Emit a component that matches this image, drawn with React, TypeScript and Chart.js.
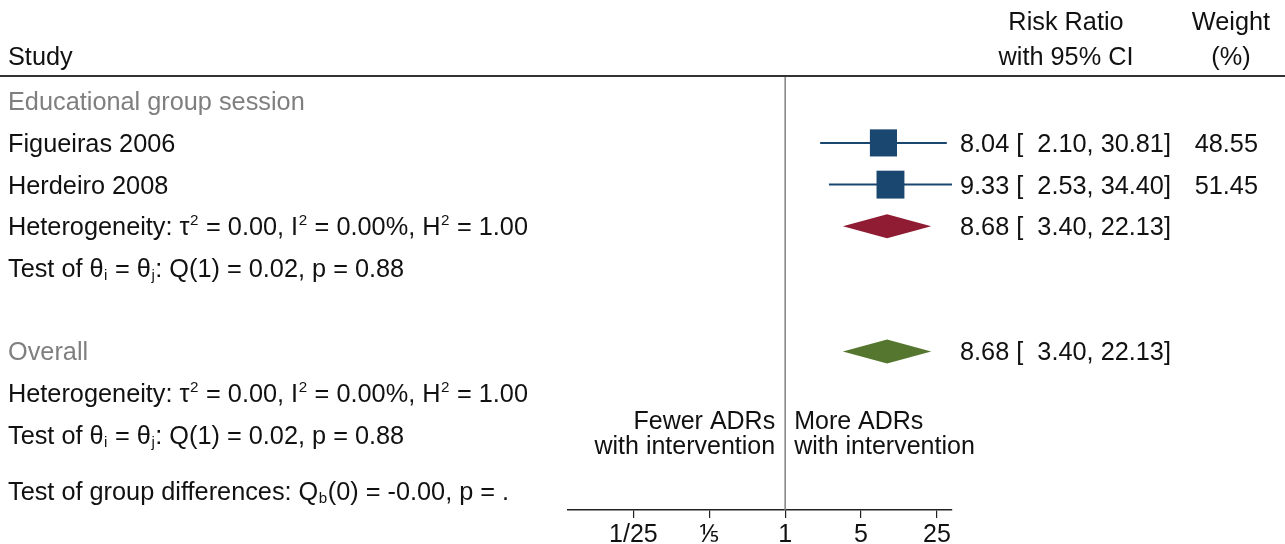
import React, { useEffect, useRef } from "react";
import { Chart, registerables } from "chart.js";

Chart.register(...registerables);

// ---------- data ----------
const groupLabel = "Educational group session";
const studies = ["Figueiras 2006", "Herdeiro 2008"];
const riskRatio = [8.04, 9.33];
const ciLower = [2.1, 2.53];
const ciUpper = [30.81, 34.4];
const weights = [48.55, 51.45];
// pooled estimates: [subgroup, overall]
const pooledRR = [8.68, 8.68];
const pooledLower = [3.4, 3.4];
const pooledUpper = [22.13, 22.13];
const tickValues = [0.04, 0.2, 1, 5, 25];
const tickLabels = ["1/25", "\u2155", "1", "5", "25"];
const axisMin = 0.01;
const axisMax = 34.4;

// ---------- layout ----------
const W = 1285;
const H = 544;
const FONT = '"Liberation Sans", Arial, Helvetica, sans-serif';
const FS = 25.3;
const NAVY = "#1a476f";
const RED = "#901c33";
const GREEN = "#55762f";
const GRAY = "#7f7f7f";
const TEXT = "#111111";

const studyRows = [2, 3];
const pooledRows = [4, 7];
const Y_MIN = 0.42;
const Y_MAX = 10.8;

type Seg = { t: string; sup?: boolean; sub?: boolean };

const hetText: Seg[] = [
  { t: "Heterogeneity: \u03c4" },
  { t: "2", sup: true },
  { t: " = 0.00, I" },
  { t: "2", sup: true },
  { t: " = 0.00%, H" },
  { t: "2", sup: true },
  { t: " = 1.00" },
];
const testText: Seg[] = [
  { t: "Test of \u03b8" },
  { t: "i", sub: true },
  { t: " = \u03b8" },
  { t: "j", sub: true },
  { t: ": Q(1) = 0.02, p = 0.88" },
];
const groupDiffText: Seg[] = [
  { t: "Test of group differences: Q" },
  { t: "b", sub: true },
  { t: "(0) = -0.00, p = ." },
];

function drawRich(
  ctx: CanvasRenderingContext2D,
  segs: Seg[],
  x: number,
  baseline: number,
  size: number,
  color: string
) {
  let cx = x;
  ctx.fillStyle = color;
  ctx.textAlign = "left";
  ctx.textBaseline = "alphabetic";
  for (const s of segs) {
    const small = s.sup || s.sub;
    const fs = small ? size * 0.6 : size;
    ctx.font = `${fs}px ${FONT}`;
    let dy = 0;
    if (s.sup) dy = -size * 0.42;
    if (s.sub) dy = size * 0.12;
    if (small) cx += 0.5;
    ctx.fillText(s.t, cx, baseline + dy);
    cx += ctx.measureText(s.t).width + (small ? 0.5 : 0);
  }
}

const ciString = (e: number, l: number, u: number) =>
  `${e.toFixed(2)} [  ${l.toFixed(2)}, ${u.toFixed(2)}]`;

const forestText = {
  id: "forestText",
  afterDraw(chart: any) {
    const ctx: CanvasRenderingContext2D = chart.ctx;
    const xs = chart.scales.x;
    const ys = chart.scales.y;
    const area = chart.chartArea;
    const rowY = (r: number) => ys.getPixelForValue(r) + 9;
    ctx.save();

    // header rule
    ctx.strokeStyle = "#333333";
    ctx.lineWidth = 2;
    ctx.beginPath();
    ctx.moveTo(0, area.top - 1);
    ctx.lineTo(W, area.top - 1);
    ctx.stroke();

    // pooled diamonds
    const dColors = [RED, GREEN];
    pooledRows.forEach((r, i) => {
      const yc = ys.getPixelForValue(r);
      const xl = xs.getPixelForValue(pooledLower[i]);
      const xe = xs.getPixelForValue(pooledRR[i]);
      const xu = xs.getPixelForValue(pooledUpper[i]);
      ctx.fillStyle = dColors[i];
      ctx.beginPath();
      ctx.moveTo(xl, yc);
      ctx.lineTo(xe, yc - 12);
      ctx.lineTo(xu, yc);
      ctx.lineTo(xe, yc + 12);
      ctx.closePath();
      ctx.fill();
    });

    ctx.font = `${FS}px ${FONT}`;
    ctx.fillStyle = TEXT;
    ctx.textBaseline = "alphabetic";

    // headers
    ctx.textAlign = "left";
    ctx.fillText("Study", 8, 65);
    ctx.textAlign = "center";
    ctx.fillText("Risk Ratio", 1066, 30);
    ctx.fillText("with 95% CI", 1066, 65);
    ctx.fillText("Weight", 1231, 30);
    ctx.fillText("(%)", 1231, 65);

    // group label
    ctx.textAlign = "left";
    ctx.fillStyle = GRAY;
    ctx.fillText(groupLabel, 8, rowY(1));
    ctx.fillText("Overall", 8, rowY(7));

    // studies
    ctx.fillStyle = TEXT;
    studies.forEach((s, i) => {
      ctx.textAlign = "left";
      ctx.fillText(s, 8, rowY(studyRows[i]));
      ctx.fillText(ciString(riskRatio[i], ciLower[i], ciUpper[i]), 960, rowY(studyRows[i]));
      ctx.textAlign = "right";
      ctx.fillText(weights[i].toFixed(2), 1258, rowY(studyRows[i]));
    });
    ctx.textAlign = "left";
    pooledRows.forEach((r, i) => {
      ctx.fillText(ciString(pooledRR[i], pooledLower[i], pooledUpper[i]), 960, rowY(r));
    });

    drawRich(ctx, hetText, 8, rowY(4), FS, TEXT);
    drawRich(ctx, testText, 8, rowY(5), FS, TEXT);
    drawRich(ctx, hetText, 8, rowY(8), FS, TEXT);
    drawRich(ctx, testText, 8, rowY(9), FS, TEXT);
    drawRich(ctx, groupDiffText, 8, rowY(10.35), FS, TEXT);

    // direction labels
    const x1 = xs.getPixelForValue(1);
    ctx.font = `25px ${FONT}`;
    ctx.fillStyle = TEXT;
    ctx.textAlign = "right";
    ctx.fillText("Fewer ADRs", x1 - 10, 429);
    ctx.fillText("with intervention", x1 - 10, 454);
    ctx.textAlign = "left";
    ctx.fillText("More ADRs", x1 + 9, 429);
    ctx.fillText("with intervention", x1 + 9, 454);

    ctx.restore();
  },
};

export default function App() {
  const ref = useRef<HTMLCanvasElement>(null);
  useEffect(() => {
    if (!ref.current) return;
    const ciSets = studies.map((_, i) => ({
      data: [
        { x: ciLower[i], y: studyRows[i] },
        { x: ciUpper[i], y: studyRows[i] },
      ],
      showLine: true,
      borderColor: NAVY,
      borderWidth: 2,
      pointRadius: 0,
      order: 2,
    }));
    const chart = new Chart(ref.current, {
      type: "scatter",
      data: {
        datasets: [
          {
            data: [
              { x: 1, y: Y_MIN },
              { x: 1, y: Y_MAX },
            ],
            showLine: true,
            borderColor: "#808080",
            borderWidth: 1.5,
            pointRadius: 0,
            order: 3,
          },
          ...ciSets,
          {
            data: studies.map((_, i) => ({ x: riskRatio[i], y: studyRows[i] })),
            pointStyle: "rect",
            pointRadius: weights.map((w) => 2.75 * Math.sqrt(w)),
            backgroundColor: NAVY,
            borderColor: NAVY,
            borderWidth: 0,
            order: 1,
          },
        ] as any,
      },
      options: {
        animation: false,
        responsive: false,
        maintainAspectRatio: false,
        layout: { padding: { left: 568, right: W - 952, top: 77, bottom: 0 } },
        plugins: { legend: { display: false }, tooltip: { enabled: false } },
        scales: {
          x: {
            type: "logarithmic",
            min: axisMin,
            max: axisMax,
            afterBuildTicks: (axis: any) => {
              axis.ticks = tickValues.map((v) => ({ value: v }));
            },
            afterFit: (axis: any) => {
              axis.height = 34;
            },
            ticks: {
              autoSkip: false,
              maxRotation: 0,
              color: TEXT,
              font: { family: FONT, size: 25 },
              padding: 2,
              callback: (_v: any, i: number) => tickLabels[i],
            },
            grid: {
              drawOnChartArea: false,
              drawTicks: true,
              tickLength: 8,
              color: "#222222",
              lineWidth: 1.2,
            },
            border: { display: true, color: "#222222", width: 1.5 },
          },
          y: {
            type: "linear",
            display: false,
            min: Y_MIN,
            max: Y_MAX,
            reverse: true,
          },
        },
      } as any,
      plugins: [forestText],
    });
    return () => chart.destroy();
  }, []);
  return (
    <div style={{ position: "fixed", left: 0, top: 0, width: W, height: H, background: "#fff" }}>
      <canvas ref={ref} width={W} height={H} style={{ display: "block", width: W, height: H }} />
    </div>
  );
}
